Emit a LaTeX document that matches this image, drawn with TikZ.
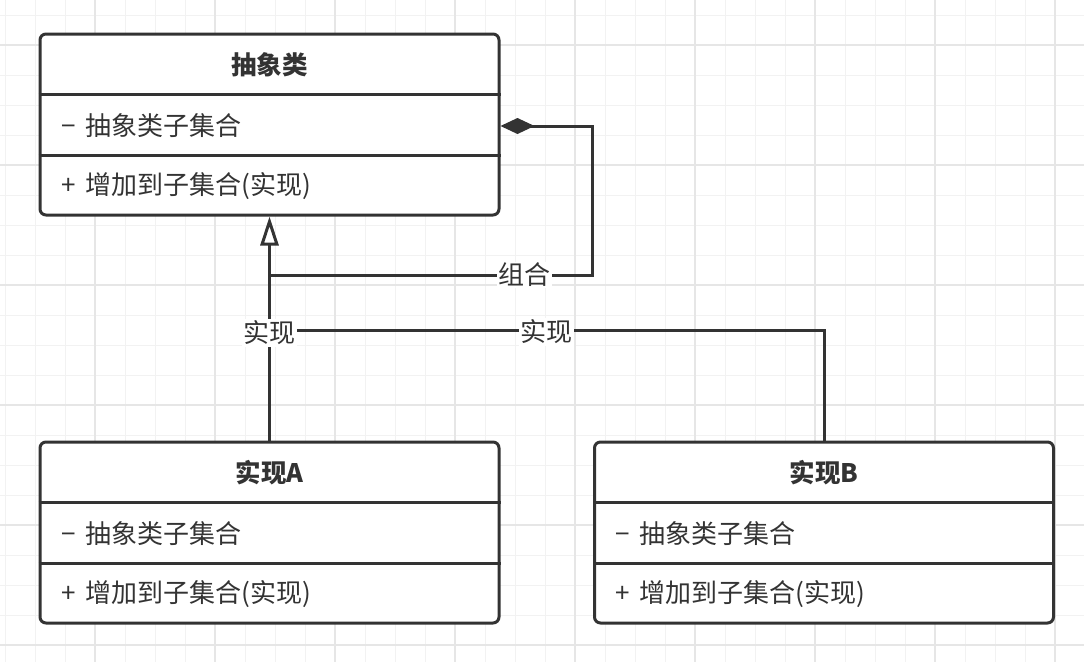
\documentclass[tikz,border=0pt]{standalone}
\usepackage{fontspec}
\newfontfamily\cjk{Noto Sans CJK SC}
\usetikzlibrary{arrows.meta}
\definecolor{ink}{HTML}{333333}
\definecolor{gridminor}{HTML}{F2F2F2}
\definecolor{gridmajor}{HTML}{E6E6E6}
\newcommand{\gap}{\hspace{10pt}}
\tikzset{
  classbox/.style={draw=ink, line width=3pt, rounded corners=6pt, fill=white,
    minimum width=459pt, minimum height=181pt, inner sep=0pt},
  sepline/.style={draw=ink, line width=3pt},
  titletext/.style={font=\cjk\bfseries\fontsize{25.5}{30}\selectfont, text=ink, inner sep=0pt},
  membertext/.style={font=\cjk\fontsize{26}{30}\selectfont, text=ink, inner sep=0pt, anchor=west},
  conn/.style={draw=ink, line width=3pt},
  realize/.style={conn, -{Triangle[fill=white, length=29pt, width=18pt]}},
  compose/.style={conn, -{Diamond[length=34pt, width=16pt]}},
  edgelabel/.style={fill=white, inner sep=1.5pt, font=\cjk\fontsize{26}{30}\selectfont, text=ink},
  gridmin/.style={draw=gridminor, line width=1pt},
  gridmaj/.style={draw=gridmajor, line width=1.5pt}
}
\begin{document}
\begin{tikzpicture}[x=1pt,y=-1pt]
  \fill[white] (0,0) rectangle (1084,662);
  \useasboundingbox (0,0) rectangle (1084,662);
  % grid
  \foreach \k in {0,...,36} { \draw[gridmin] ({5+30*\k},0) -- ({5+30*\k},662); }
  \foreach \k in {0,...,21} { \draw[gridmin] (0,{15+30*\k}) -- (1084,{15+30*\k}); }
  \foreach \k in {0,...,8} { \draw[gridmaj] ({95+120*\k},0) -- ({95+120*\k},662); }
  \foreach \k in {0,...,5} { \draw[gridmaj] (0,{45+120*\k}) -- (1084,{45+120*\k}); }

  % abstract class
  \node[classbox] (abs) at (269.5,124.5) {};
  \draw[sepline] (abs.west |- 0,94) -- (abs.east |- 0,94);
  \draw[sepline] (abs.west |- 0,155) -- (abs.east |- 0,155);
  \node[titletext] (absT) at (269.5,65) {抽象类};
  \node[membertext] (absA) at (61,126) {−\gap 抽象类子集合};
  \node[membertext] (absO) at (61,186) {+\gap 增加到子集合(实现)};

  % implementation A
  \node[classbox] (implA) at (269.5,532.5) {};
  \draw[sepline] (implA.west |- 0,502) -- (implA.east |- 0,502);
  \draw[sepline] (implA.west |- 0,563) -- (implA.east |- 0,563);
  \node[titletext] (implAT) at (269.5,473) {实现A};
  \node[membertext] (implAA) at (61,534) {−\gap 抽象类子集合};
  \node[membertext] (implAO) at (61,594) {+\gap 增加到子集合(实现)};

  % implementation B
  \node[classbox] (implB) at (824,532.5) {};
  \draw[sepline] (implB.west |- 0,502) -- (implB.east |- 0,502);
  \draw[sepline] (implB.west |- 0,563) -- (implB.east |- 0,563);
  \node[titletext] (implBT) at (824,473) {实现B};
  \node[membertext] (implBA) at (615,534) {−\gap 抽象类子集合};
  \node[membertext] (implBO) at (615,594) {+\gap 增加到子集合(实现)};

  % connector junctions
  \coordinate (jB) at (269.5,330);
  \coordinate (jC) at (269.5,275);
  \coordinate (cC) at (592,275);

  % composition
  \draw[compose] (jC) -- node[edgelabel, pos=0.79] (lblC) {组合} (cC) |- (absA -| abs.east);

  % realization B
  \draw[conn] (implB.north) |- node[edgelabel, pos=0.75, yshift=-2pt] (lblB) {实现} (jB);

  % realization A
  \draw[realize] (implA.north) -- node[edgelabel, pos=0.48] (lblA) {实现} (abs.south);
\end{tikzpicture}
\end{document}
